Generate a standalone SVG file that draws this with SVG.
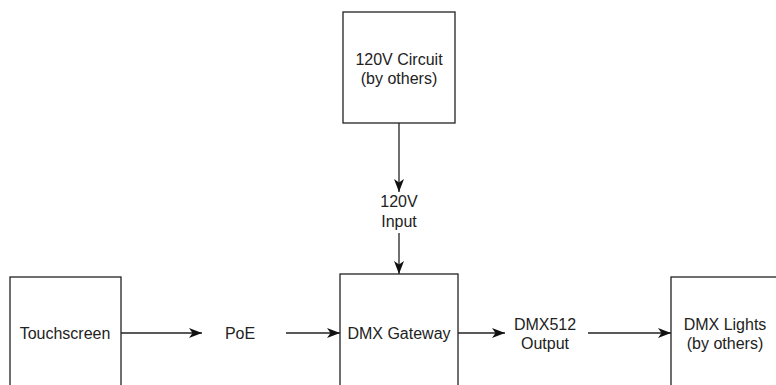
<svg xmlns="http://www.w3.org/2000/svg" width="776" height="385" viewBox="0 0 776 385">
<style>
.box{fill:#fff;stroke:#222;stroke-width:1.3}
.t{font-family:"Liberation Sans",Arial,sans-serif;font-size:16px;fill:#222;text-anchor:middle}
.c{stroke:#222;stroke-width:1.3;fill:none}
</style>
<defs>
<marker id="a" markerUnits="userSpaceOnUse" markerWidth="14" markerHeight="12" refX="13" refY="5" orient="auto" viewBox="0 0 14 10">
<path d="M0,0 L13,5 L0,10 L3.5,5 Z" fill="#111"/>
</marker>
</defs>
<rect width="776" height="385" fill="#fff"/>
<g id="connectors">
<line class="c" x1="399" y1="123" x2="399" y2="192" marker-end="url(#a)"/>
<line class="c" x1="399" y1="233" x2="399" y2="274" marker-end="url(#a)"/>
<line class="c" x1="121" y1="333" x2="202" y2="333" marker-end="url(#a)"/>
<line class="c" x1="286" y1="333" x2="340" y2="333" marker-end="url(#a)"/>
<line class="c" x1="458" y1="333" x2="505" y2="333" marker-end="url(#a)"/>
<line class="c" x1="588" y1="333" x2="671" y2="333" marker-end="url(#a)"/>
</g>
<g id="label-120v">
<text class="t" x="399" y="207">120V</text>
<text class="t" x="399" y="227">Input</text>
</g>
<g id="label-poe">
<text class="t" x="240" y="339">PoE</text>
</g>
<g id="label-dmx512">
<text class="t" x="545" y="330">DMX512</text>
<text class="t" x="545" y="349">Output</text>
</g>
<g id="circuit">
<rect class="box" x="343" y="12" width="112" height="111"/>
<text class="t" x="399" y="65">120V Circuit</text>
<text class="t" x="399" y="84">(by others)</text>
</g>
<g id="touchscreen">
<rect class="box" x="10" y="277" width="111" height="115"/>
<text class="t" x="65" y="339">Touchscreen</text>
</g>
<g id="gateway">
<rect class="box" x="340" y="274" width="118" height="118"/>
<text class="t" x="399" y="339">DMX Gateway</text>
</g>
<g id="lights">
<rect class="box" x="671" y="277" width="110" height="115"/>
<text class="t" x="725" y="330">DMX Lights</text>
<text class="t" x="725" y="349">(by others)</text>
</g>
</svg>
